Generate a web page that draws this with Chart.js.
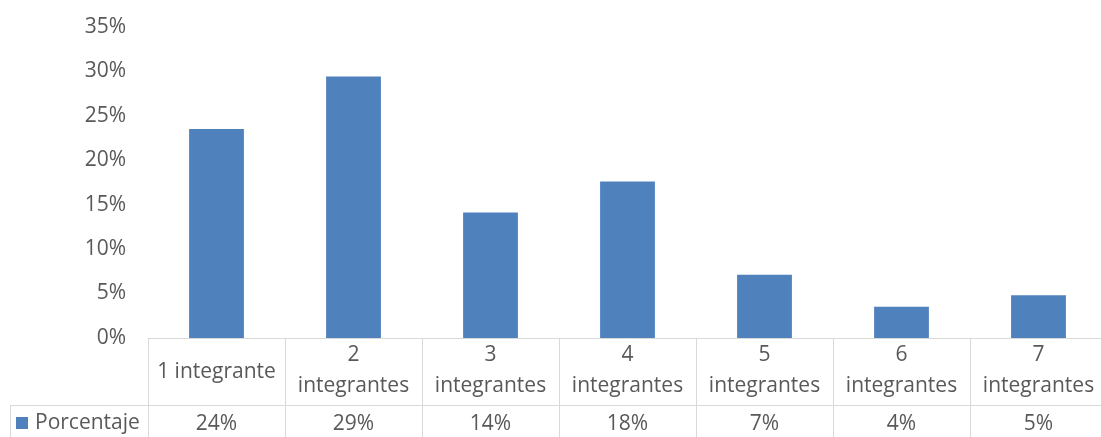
<!DOCTYPE html>
<html>
<head>
<meta charset="utf-8">
<script src="https://cdn.jsdelivr.net/npm/chart.js@4/dist/chart.umd.min.js"></script>
<style>
  html, body { margin: 0; padding: 0; background: #fff; overflow: hidden; }
  #wrap { width: 1107px; height: 437px; position: relative; }
</style>
</head>
<body>
<div id="wrap"><canvas id="chart"></canvas></div>
<script>
// data
const categories = [['1 integrante'], ['2', 'integrantes'], ['3', 'integrantes'], ['4', 'integrantes'],
                    ['5', 'integrantes'], ['6', 'integrantes'], ['7', 'integrantes']];
const seriesName = 'Porcentaje';
const porcentaje = [23.5, 29.4, 14.1, 17.6, 7.1, 3.5, 4.8];
const yTicks = [0, 5, 10, 15, 20, 25, 30, 35];

const textColor = '#595959';
const lineColor = '#d9d9d9';
const barColor = '#4f81bd';
const fontFamily = '"Open Sans", "Noto Sans", sans-serif';

// draws the Excel-style data table under the plot
const dataTable = {
    id: 'dataTable',
    afterDraw(chart) {
        const ctx = chart.ctx;
        const x = chart.scales.x;
        const area = chart.chartArea;
        const n = categories.length;
        const step = x.getPixelForValue(1) - x.getPixelForValue(0);
        const left = x.getPixelForValue(0) - step / 2;
        const right = left + step * n;
        const top = area.bottom;
        const mid = top + 67;
        const bottom = chart.height;

        ctx.save();
        ctx.strokeStyle = lineColor;
        ctx.lineWidth = 1;
        ctx.beginPath();
        ctx.moveTo(left, top + 0.5); ctx.lineTo(right, top + 0.5);
        ctx.moveTo(10, mid + 0.5); ctx.lineTo(right, mid + 0.5);
        ctx.moveTo(10.5, mid); ctx.lineTo(10.5, bottom);
        for (let i = 0; i <= n; i++) {
            const px = Math.round(left + step * i) + 0.5;
            ctx.moveTo(px, top); ctx.lineTo(px, bottom);
        }
        ctx.stroke();

        ctx.fillStyle = textColor;
        ctx.font = '21px ' + fontFamily;
        ctx.textAlign = 'center';
        ctx.textBaseline = 'middle';
        categories.forEach((lines, i) => {
            const cx = x.getPixelForValue(i);
            if (lines.length === 1) {
                ctx.fillText(lines[0], cx, top + 34);
            } else {
                ctx.fillText(lines[0], cx, top + 17);
                ctx.fillText(lines[1], cx, top + 48);
            }
            ctx.fillText(Math.round(porcentaje[i]) + '%', cx, mid + 19);
        });

        // legend key
        ctx.fillStyle = barColor;
        ctx.fillRect(16, mid + 12, 12, 12);
        ctx.fillStyle = textColor;
        ctx.textAlign = 'left';
        ctx.fillText(seriesName, 35, mid + 18);
        ctx.restore();
    }
};

new Chart(document.getElementById('chart'), {
    type: 'bar',
    data: {
        labels: categories.map(c => c.join(' ')),
        datasets: [{
            label: seriesName,
            data: porcentaje,
            backgroundColor: barColor,
            borderWidth: 0,
            categoryPercentage: 1,
            barPercentage: 0.4
        }]
    },
    options: {
        responsive: true,
        maintainAspectRatio: false,
        animation: false,
        layout: { padding: { top: 1, right: 0, bottom: 99, left: 0 } },
        plugins: { legend: { display: false }, tooltip: { enabled: false } },
        scales: {
            x: { display: false, offset: true },
            y: {
                min: 0,
                max: 35,
                afterFit(scale) { scale.width = 148; },
                afterBuildTicks(scale) { scale.ticks = yTicks.map(v => ({ value: v })); },
                grid: { display: false },
                border: { display: false },
                ticks: {
                    color: textColor,
                    padding: 14,
                    font: { family: fontFamily, size: 21 },
                    callback: v => v + '%'
                }
            }
        }
    },
    plugins: [dataTable]
});
</script>
</body>
</html>
